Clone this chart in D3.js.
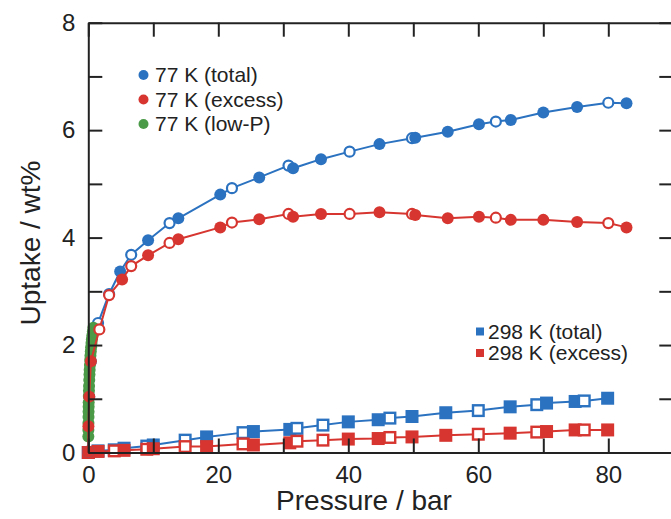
<!DOCTYPE html>
<html>
<head>
  <meta charset="utf-8">
  <style>
    body { margin: 0; background: #fff; }
    svg text { font-family: "Liberation Sans", Arial, sans-serif; fill: #222; }
    .axis path, .axis line { stroke: #222; stroke-width: 2; }
    .axis text { font-size: 24px; }
    .axis_label { font-size: 28px; text-anchor: middle; }
    .legend text { font-size: 21px; }
  </style>
  <title>Uptake vs Pressure</title>
</head>
<body>
  <script src="https://cdn.jsdelivr.net/npm/d3@7"></script>
  <script>
    // ---- data (pressure in bar, uptake in wt%, open = desorption point) ----
    var p77Total = [0, 0.15, 0.4, 1.5, 3.2, 4.9, 6.6, 9.2, 12.5, 13.85, 20.3, 22.1, 26.3, 30.8, 31.5, 35.8, 40.2, 44.8, 49.8, 50.3, 55.3, 60.1, 62.7, 65.0, 70.0, 75.2, 80.0, 82.8];
    var u77Total = [0.02, 1.04, 1.70, 2.41, 2.95, 3.37, 3.68, 3.95, 4.27, 4.36, 4.80, 4.92, 5.12, 5.34, 5.29, 5.46, 5.60, 5.74, 5.85, 5.86, 5.97, 6.11, 6.16, 6.19, 6.33, 6.43, 6.51, 6.50];
    var o77Total = [0, 0, 0, 1, 1, 0, 1, 0, 1, 0, 0, 1, 0, 1, 0, 0, 1, 0, 1, 0, 0, 0, 1, 0, 0, 0, 1, 0];

    var p77Excess = [0, 0.02, 0.15, 0.4, 1.7, 3.2, 5.2, 6.6, 9.2, 12.5, 13.85, 20.3, 22.1, 26.3, 30.8, 31.5, 35.8, 40.2, 44.8, 49.8, 50.3, 55.3, 60.1, 62.7, 65.0, 70.0, 75.2, 80.0, 82.8];
    var u77Excess = [0.02, 0.49, 1.04, 1.70, 2.29, 2.93, 3.22, 3.47, 3.67, 3.90, 3.97, 4.19, 4.28, 4.34, 4.44, 4.39, 4.44, 4.44, 4.47, 4.44, 4.42, 4.36, 4.39, 4.37, 4.33, 4.33, 4.29, 4.27, 4.19];
    var o77Excess = [0, 0, 0, 0, 1, 1, 0, 1, 0, 1, 0, 0, 1, 0, 1, 0, 0, 1, 0, 1, 0, 0, 0, 1, 0, 0, 0, 1, 0];

    var p77Low = [0.005, 0.01, 0.02, 0.03, 0.04, 0.05, 0.06, 0.08, 0.10, 0.12, 0.15, 0.18, 0.21, 0.25, 0.29, 0.33, 0.38, 0.43, 0.49, 0.55, 0.62, 0.70, 0.78];
    var u77Low = [0.30, 0.42, 0.55, 0.66, 0.76, 0.85, 0.93, 1.05, 1.15, 1.24, 1.35, 1.45, 1.54, 1.63, 1.72, 1.80, 1.88, 1.96, 2.04, 2.11, 2.18, 2.25, 2.32];

    var p298Total = [0, 1.5, 4.0, 5.5, 9.0, 10.0, 14.9, 18.2, 23.8, 25.4, 31.0, 32.1, 36.1, 40.0, 44.6, 46.4, 49.8, 55.0, 60.0, 64.9, 69.0, 70.5, 74.9, 76.3, 79.9];
    var u298Total = [0.00, 0.03, 0.05, 0.08, 0.12, 0.14, 0.23, 0.29, 0.37, 0.39, 0.43, 0.45, 0.51, 0.57, 0.61, 0.64, 0.67, 0.74, 0.78, 0.85, 0.89, 0.92, 0.95, 0.96, 1.01];
    var o298Total = [0, 0, 1, 0, 1, 0, 1, 0, 1, 0, 0, 1, 1, 0, 0, 1, 0, 0, 1, 0, 1, 0, 0, 1, 0];

    var p298Excess = [0, 1.5, 4.0, 5.5, 9.0, 10.0, 14.9, 18.2, 23.8, 25.4, 31.0, 32.1, 36.1, 40.0, 44.6, 46.4, 49.8, 55.0, 60.0, 64.9, 69.0, 70.5, 74.9, 76.3, 79.9];
    var u298Excess = [0.00, 0.02, 0.03, 0.04, 0.06, 0.07, 0.11, 0.11, 0.16, 0.14, 0.18, 0.21, 0.23, 0.25, 0.26, 0.28, 0.29, 0.32, 0.34, 0.36, 0.38, 0.39, 0.42, 0.42, 0.42];
    var o298Excess = [0, 0, 1, 0, 1, 0, 1, 0, 1, 0, 0, 1, 1, 0, 0, 1, 0, 0, 1, 0, 1, 0, 0, 1, 0];

    var xTicks = [0, 10, 20, 30, 40, 50, 60, 70, 80, 90];
    var yTicks = [0, 1, 2, 3, 4, 5, 6, 7, 8];

    var legend77Names = ["77 K (total)", "77 K (excess)", "77 K (low-P)"];
    var legend298Names = ["298 K (total)", "298 K (excess)"];

    var blue = "#2b72c0", red = "#d6362f", green = "#4b9a47";

    // ---- layout ----
    var width = 671, height = 519;
    var plotLeft = 88.3, plotRight = 673.3, plotTop = 22.7, plotBottom = 452.5;

    var x = d3.scaleLinear().domain([0, 90]).range([plotLeft, plotRight]);
    var y = d3.scaleLinear().domain([0, 8]).range([plotBottom, plotTop]);

    var svg = d3.select("body").append("svg")
      .attr("width", width)
      .attr("height", height);

    function zip(ps, us, os) {
      return ps.map(function(p, i) { return { p: p, u: us[i], open: os ? os[i] === 1 : false }; });
    }

    var line = d3.line()
      .x(function(d) { return x(d.p); })
      .y(function(d) { return y(d.u); });

    // draw one series: connecting line + markers
    function drawSeries(data, color, shape) {
      var g = svg.append("g");
      g.append("path")
        .datum(data)
        .attr("d", line)
        .attr("fill", "none")
        .attr("stroke", color)
        .attr("stroke-width", 2);
      if (shape === "circle") {
        g.selectAll("circle")
          .data(data)
          .enter()
          .append("circle")
          .attr("cx", function(d) { return x(d.p); })
          .attr("cy", function(d) { return y(d.u); })
          .attr("r", function(d) { return d.open ? 5 : 6; })
          .attr("fill", function(d) { return d.open ? "#fff" : color; })
          .attr("stroke", color)
          .attr("stroke-width", function(d) { return d.open ? 2.2 : 0; });
      } else {
        var s = 13;
        g.selectAll("rect")
          .data(data)
          .enter()
          .append("rect")
          .attr("x", function(d) { return x(d.p) - (d.open ? s - 2.4 : s) / 2; })
          .attr("y", function(d) { return y(d.u) - (d.open ? s - 2.4 : s) / 2; })
          .attr("width", function(d) { return d.open ? s - 2.4 : s; })
          .attr("height", function(d) { return d.open ? s - 2.4 : s; })
          .attr("fill", function(d) { return d.open ? "#fff" : color; })
          .attr("stroke", color)
          .attr("stroke-width", function(d) { return d.open ? 2.4 : 0; });
      }
    }

    drawSeries(zip(p298Total, u298Total, o298Total), blue, "square");
    drawSeries(zip(p298Excess, u298Excess, o298Excess), red, "square");
    drawSeries(zip(p77Total, u77Total, o77Total), blue, "circle");
    drawSeries(zip(p77Low, u77Low), green, "circle");
    drawSeries(zip(p77Excess, u77Excess, o77Excess), red, "circle");

    // ---- axes (ticks point inward on all four sides) ----
    svg.append("g")
      .attr("class", "axis")
      .attr("transform", "translate(0," + plotBottom + ")")
      .call(d3.axisBottom(x).tickValues(xTicks).tickSize(-14).tickSizeOuter(0).tickPadding(13)
        .tickFormat(function(d) { return (d % 20 === 0 && d <= 80) ? d : ""; }));

    svg.append("g")
      .attr("class", "axis")
      .attr("transform", "translate(0," + plotTop + ")")
      .call(d3.axisTop(x).tickValues(xTicks).tickSize(-14).tickSizeOuter(0).tickFormat(""));

    svg.append("g")
      .attr("class", "axis")
      .attr("transform", "translate(" + plotLeft + ",0)")
      .call(d3.axisLeft(y).tickValues(yTicks).tickSize(-14).tickSizeOuter(0).tickPadding(13)
        .tickFormat(function(d) { return d % 2 === 0 ? d : ""; }));

    svg.append("g")
      .attr("class", "axis")
      .attr("transform", "translate(" + plotRight + ",0)")
      .call(d3.axisRight(y).tickValues(yTicks).tickSize(-14).tickSizeOuter(0).tickFormat(""));

    // axis labels
    svg.append("text")
      .attr("class", "axis_label")
      .attr("x", 364)
      .attr("y", 510)
      .text("Pressure / bar");

    svg.append("text")
      .attr("class", "axis_label")
      .attr("transform", "translate(40,243) rotate(-90)")
      .text("Uptake / wt%");

    // ---- legends ----
    var colors77 = [blue, red, green];
    var leg1 = svg.append("g").attr("class", "legend");
    legend77Names.forEach(function(name, i) {
      var yy = 75 + i * 24.5;
      leg1.append("circle").attr("cx", 143.5).attr("cy", yy).attr("r", 5).attr("fill", colors77[i]);
      leg1.append("text").attr("x", 155).attr("y", yy).attr("dy", "0.35em").text(name);
    });

    var colors298 = [blue, red];
    var leg2 = svg.append("g").attr("class", "legend");
    legend298Names.forEach(function(name, i) {
      var yy = 331.5 + i * 21.5;
      leg2.append("rect").attr("x", 476).attr("y", yy - 4).attr("width", 8).attr("height", 8).attr("fill", colors298[i]);
      leg2.append("text").attr("x", 488).attr("y", yy).attr("dy", "0.35em").text(name);
    });
  </script>
</body>
</html>
